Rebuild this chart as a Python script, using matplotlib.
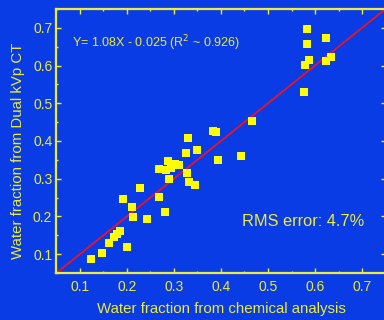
import numpy as np
import matplotlib
matplotlib.use('Agg')
import matplotlib.pyplot as plt
from matplotlib.ticker import MultipleLocator

plt.rcParams['font.family'] = ['Liberation Sans', 'DejaVu Sans']

# water fraction: chemical analysis (x) vs dual kVp CT (y)
chem = [0.582, 0.584, 0.623, 0.578, 0.587, 0.623, 0.633, 0.577, 0.467,
        0.384, 0.389, 0.330, 0.326, 0.350, 0.442, 0.393, 0.288, 0.302,
        0.311, 0.293, 0.269, 0.283, 0.327, 0.289, 0.333, 0.344, 0.228,
        0.192, 0.269, 0.210, 0.280, 0.212, 0.243, 0.186, 0.179, 0.172,
        0.162, 0.200, 0.147, 0.123]
ct = [0.697, 0.658, 0.674, 0.602, 0.615, 0.613, 0.623, 0.529, 0.452,
      0.427, 0.423, 0.407, 0.368, 0.376, 0.360, 0.349, 0.348, 0.338,
      0.335, 0.329, 0.325, 0.323, 0.314, 0.300, 0.291, 0.284, 0.274,
      0.245, 0.251, 0.224, 0.212, 0.198, 0.192, 0.160, 0.152, 0.145,
      0.130, 0.120, 0.103, 0.088]
line_x = [0.05, 0.75]
line_y = [0.05, 0.75]

bg = '#0A3CE6'
yel = '#EDED3A'

fig = plt.figure(figsize=(3.84, 3.2), dpi=100)
fig.patch.set_facecolor(bg)
ax = fig.add_axes([0.147, 0.147, 0.857, 0.825])
ax.set_facecolor(bg)

ax.plot(line_x, line_y, color='#FF1010', lw=1.2, zorder=2)
ax.plot(chem, ct, 's', color='#FFFF00', ms=6.3, mew=0, zorder=3)

ax.set_xlim(0.05, 0.75)
ax.set_ylim(0.05, 0.75)
ax.xaxis.set_major_locator(MultipleLocator(0.1))
ax.yaxis.set_major_locator(MultipleLocator(0.1))
ax.xaxis.set_minor_locator(MultipleLocator(0.05))
ax.yaxis.set_minor_locator(MultipleLocator(0.05))
ax.tick_params(which='both', direction='in', colors=yel, top=True, right=True,
               labelsize=10, width=1)
ax.tick_params(which='major', length=3.5)
ax.tick_params(axis='y', which='major', pad=3)
ax.tick_params(axis='x', which='major', pad=5)
ax.tick_params(which='minor', length=1.5)
for s in ax.spines.values():
    s.set_color(yel)
    s.set_linewidth(1.6)

ax.set_xlabel('Water fraction from chemical analysis', color=yel, fontsize=10.8, labelpad=6)
ax.set_ylabel('Water fraction from Dual kVp CT', color=yel, fontsize=10.8, labelpad=6)
ax.yaxis.label.set_y(0.462)

ax.text(0.083, 0.66, 'Y= 1.08X - 0.025 (R$^2$ ~ 0.926)', color=yel, fontsize=9,
        va='center')
ax.text(0.445, 0.187, 'RMS error: 4.7%', color=yel, fontsize=11.8, va='center')

fig.savefig('out.png', dpi=100, facecolor=bg)
